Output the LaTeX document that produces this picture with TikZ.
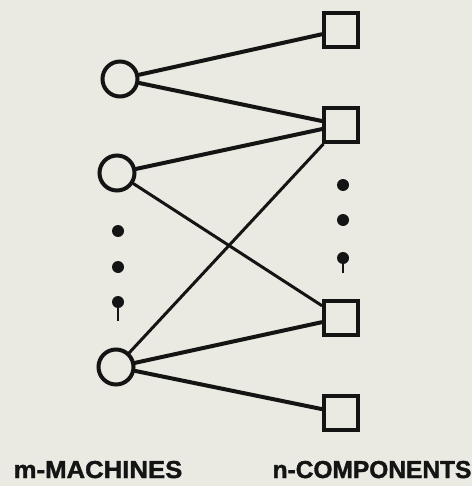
\documentclass[tikz,border=0pt]{standalone}
\usepackage{fontspec}
\setmainfont{Liberation Sans}[FakeBold=1.5]
\definecolor{paper}{RGB}{234,234,226}
\definecolor{ink}{RGB}{20,20,20}
\begin{document}
\begin{tikzpicture}[x=1pt,y=-1pt,
  machine/.style={circle,draw=ink,line width=4pt,minimum size=35pt,inner sep=0pt},
  comp/.style={rectangle,draw=ink,line width=4.5pt,minimum size=34pt,inner sep=0pt},
  link/.style={draw=ink,line width=4pt,line cap=round},
  thinlink/.style={draw=ink,line width=3pt,line cap=round},
  dotmark/.style={circle,fill=ink,minimum size=12pt,inner sep=0pt},
  lbl/.style={font=\bfseries\fontsize{24.5}{24.5}\selectfont,text=ink,inner sep=0pt,anchor=base}]
\fill[paper] (0,0) rectangle (472,486);
\useasboundingbox (0,0) rectangle (472,486);
% machines
\node[machine] (m1) at (120,79) {};
\node[machine] (m2) at (117,173) {};
\node[machine] (m3) at (116,367) {};
% components
\node[comp] (n1) at (341,30) {};
\node[comp] (n2) at (341,125) {};
\node[comp] (n3) at (341,318) {};
\node[comp] (n4) at (341,413) {};
% links
\draw[link] (m1) -- (n1);
\draw[link] (m1) -- (n2);
\draw[link] (m2) -- (n2);
\draw[thinlink] (m2) -- (n3);
\draw[thinlink] (m3) -- (n2);
\draw[link] (m3) -- (n3);
\draw[link] (m3) -- (n4);
% ellipsis dots
\node[dotmark] (l1) at (118,231) {};
\node[dotmark] (l2) at (118,267) {};
\node[dotmark] (l3) at (118,302) {};
\coordinate (l3t) at (118,321);
\draw[ink,line width=1.4pt] (l3) -- (l3t);
\node[dotmark] (r1) at (343,185) {};
\node[dotmark] (r2) at (343,220) {};
\node[dotmark] (r3) at (343,258) {};
\coordinate (r3t) at (343,273);
\draw[ink,line width=1.4pt] (r3) -- (r3t);
% labels
\node[lbl,xscale=1.05] (ml) at (98,478) {m-MACHINES};
\node[lbl] (nl) at (372,478) {n-COMPONENTS};
\end{tikzpicture}
\end{document}
